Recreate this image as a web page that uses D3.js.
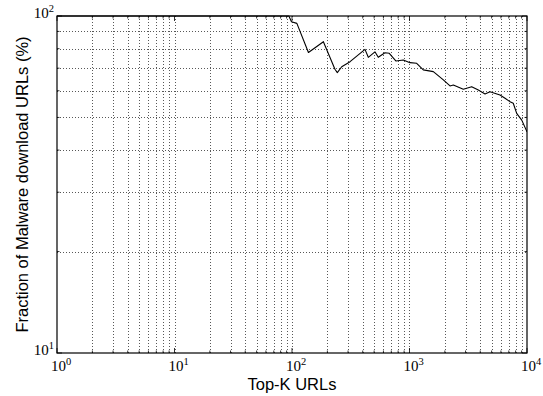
<!DOCTYPE html>
<html>
<head>
<meta charset="utf-8">
<script src="https://cdn.jsdelivr.net/npm/d3@7"></script>
<style>
  body { margin: 0; background: #fff; }
  .tick-label { font-family: "Liberation Serif", serif; font-size: 15px; fill: #000; }
  .axis-title { font-family: "Liberation Sans", Arial, sans-serif; font-size: 16.5px; fill: #000; }
</style>
</head>
<body>
<script>
// Top-K URLs (x) vs fraction of malware download URLs in %
const topK = [1, 10, 50, 94, 99, 110, 138, 185, 232, 243, 265, 312, 418, 446, 508, 542, 618, 673,
  768, 885, 1010, 1151, 1310, 1595, 1941, 2212, 2360, 2871, 3384, 3852, 4395, 4842, 5890,
  6500, 7100, 7640, 8170, 9020, 10000];
const fraction = [100, 100, 100, 100, 96.2, 95.1, 77.9, 83.9, 69.5, 67.9, 70.7, 73.2, 79.6, 75.4,
  78.3, 75.4, 77.8, 77.5, 73.5, 74.0, 72.7, 72.4, 69.2, 68.4, 64.6, 62.0, 62.4, 60.6, 61.7,
  60.3, 58.7, 59.6, 58.3, 57.0, 55.8, 55.1, 51.4, 49.1, 45.3];

const xDecades = [1, 10, 100, 1000, 10000];
const yDecades = [10, 100];

const W = 543, H = 396;
const m = { left: 57, right: 16, top: 16, bottom: 43 };

const svg = d3.select("body").append("svg")
  .attr("width", W).attr("height", H);

const x = d3.scaleLog().domain([1, 10000]).range([m.left, W - m.right]);
const y = d3.scaleLog().domain([10, 100]).range([H - m.bottom, m.top]);

// all minor + major tick positions
const xTicks = [];
for (let d = 1; d < 10000; d *= 10) for (let k = 1; k < 10; k++) xTicks.push(d * k);
xTicks.push(10000);
const yTicks = [];
for (let k = 1; k <= 10; k++) yTicks.push(10 * k);

const grid = svg.append("g")
  .attr("stroke", "#000").attr("stroke-width", 1)
  .attr("stroke-dasharray", "1,2").attr("opacity", 0.65);
grid.selectAll(".gx").data(xTicks.filter(v => v > 1 && v < 10000)).enter().append("line")
  .attr("x1", d => Math.round(x(d)) + 0.5).attr("x2", d => Math.round(x(d)) + 0.5)
  .attr("y1", m.top).attr("y2", H - m.bottom);
grid.selectAll(".gy").data(yTicks.filter(v => v > 10 && v < 100)).enter().append("line")
  .attr("y1", d => Math.round(y(d)) + 0.5).attr("y2", d => Math.round(y(d)) + 0.5)
  .attr("x1", m.left).attr("x2", W - m.right);

// tick marks (inward, all four sides)
const tk = svg.append("g").attr("stroke", "#000").attr("stroke-width", 0.8);
xTicks.forEach(v => {
  const len = xDecades.includes(v) ? 5 : 2.5;
  const px = x(v);
  tk.append("line").attr("x1", px).attr("x2", px).attr("y1", H - m.bottom).attr("y2", H - m.bottom - len);
  tk.append("line").attr("x1", px).attr("x2", px).attr("y1", m.top).attr("y2", m.top + len);
});
yTicks.forEach(v => {
  const len = yDecades.includes(v) ? 5 : 2.5;
  const py = y(v);
  tk.append("line").attr("y1", py).attr("y2", py).attr("x1", m.left).attr("x2", m.left + len);
  tk.append("line").attr("y1", py).attr("y2", py).attr("x1", W - m.right).attr("x2", W - m.right - len);
});

svg.append("clipPath").attr("id", "clip").append("rect")
  .attr("x", m.left).attr("y", m.top - 1)
  .attr("width", W - m.left - m.right).attr("height", H - m.top - m.bottom + 1);

const line = d3.line().x((d, i) => x(topK[i])).y(d => y(d));
svg.append("path")
  .datum(fraction)
  .attr("clip-path", "url(#clip)")
  .attr("fill", "none").attr("stroke", "#000").attr("stroke-width", 1.1)
  .attr("stroke-linejoin", "round")
  .attr("d", line);

// frame
svg.append("rect")
  .attr("x", m.left).attr("y", m.top)
  .attr("width", W - m.left - m.right).attr("height", H - m.top - m.bottom)
  .attr("fill", "none").attr("stroke", "#000").attr("stroke-width", 1.2);

// tick labels 10^n
function powLabel(g, v) {
  const n = Math.round(Math.log10(v));
  g.append("tspan").text("10");
  g.append("tspan").attr("dy", -6).attr("font-size", 10.5).text(n);
}
xDecades.forEach(v => {
  const t = svg.append("text").attr("class", "tick-label")
    .attr("x", x(v) + 4).attr("y", H - m.bottom + 18).attr("text-anchor", "middle");
  powLabel(t, v);
});
yDecades.forEach(v => {
  const t = svg.append("text").attr("class", "tick-label")
    .attr("x", m.left - 3).attr("y", y(v) + 2).attr("text-anchor", "end");
  powLabel(t, v);
});

svg.append("text").attr("class", "axis-title")
  .attr("x", (m.left + W - m.right) / 2).attr("y", H - 6)
  .attr("text-anchor", "middle").text("Top-K URLs");

svg.append("text").attr("class", "axis-title")
  .attr("transform", `translate(28,${(m.top + H - m.bottom) / 2}) rotate(-90)`)
  .attr("text-anchor", "middle").text("Fraction of Malware download URLs (%)");
</script>
</body>
</html>
